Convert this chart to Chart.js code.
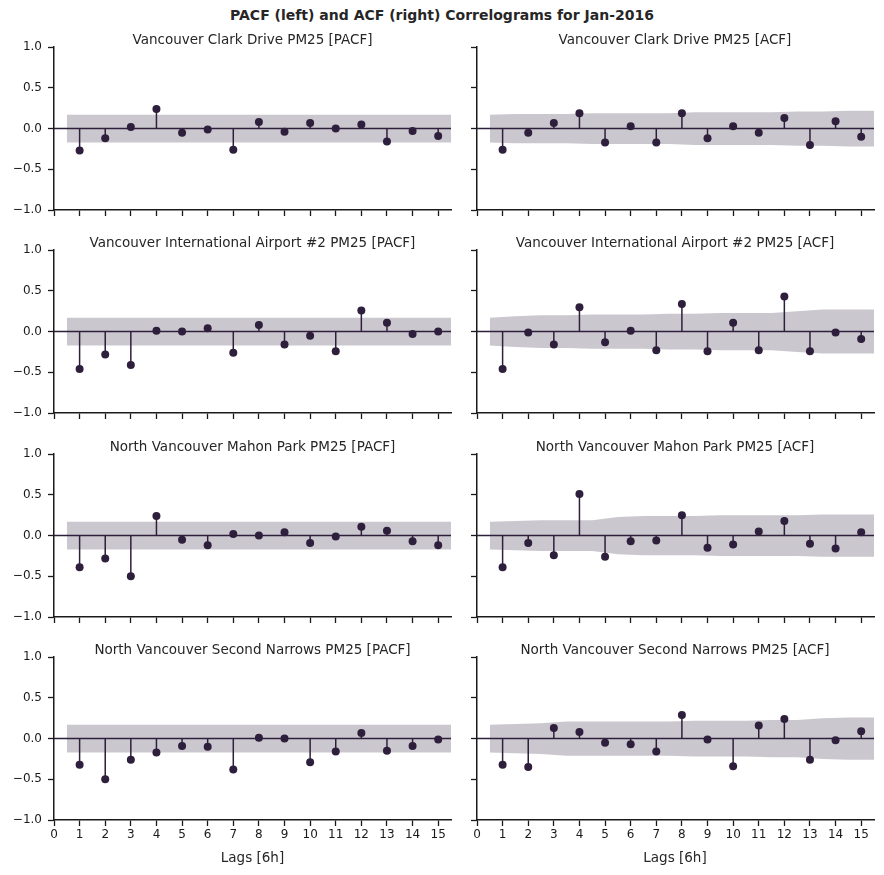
<!DOCTYPE html>
<html><head><meta charset="utf-8">
<script src="https://cdn.jsdelivr.net/npm/chart.js@4"></script>
<style>
body{margin:0;background:#fff;font-family:"DejaVu Sans",sans-serif;color:#262626}
#wrap{position:relative;width:884px;height:875px}
canvas{position:absolute}
.t{position:absolute;font-size:13.5px;text-align:center;white-space:nowrap}
</style></head><body><div id="wrap"></div>
<script>
const lags=[1,2,3,4,5,6,7,8,9,10,11,12,13,14,15];
const yTicks=[-1,-0.5,0,0.5,1];
const titles=[
"Vancouver Clark Drive PM25","Vancouver International Airport #2 PM25",
"North Vancouver Mahon Park PM25","North Vancouver Second Narrows PM25"];
const pacf=[
[-0.27,-0.12,0.02,0.24,-0.05,-0.01,-0.26,0.08,-0.04,0.07,0,0.05,-0.16,-0.03,-0.09],
[-0.46,-0.28,-0.41,0.01,0,0.04,-0.26,0.08,-0.16,-0.05,-0.24,0.26,0.11,-0.03,0],
[-0.39,-0.28,-0.5,0.24,-0.05,-0.12,0.02,0,0.04,-0.09,-0.01,0.11,0.06,-0.07,-0.12],
[-0.32,-0.5,-0.26,-0.17,-0.09,-0.1,-0.38,0.01,0,-0.29,-0.16,0.07,-0.15,-0.09,-0.01]];
const acf=[
[-0.26,-0.05,0.07,0.19,-0.17,0.03,-0.17,0.19,-0.12,0.03,-0.05,0.13,-0.2,0.09,-0.1],
[-0.46,-0.01,-0.16,0.3,-0.13,0.01,-0.23,0.34,-0.24,0.11,-0.23,0.43,-0.24,-0.01,-0.09],
[-0.39,-0.09,-0.24,0.51,-0.26,-0.07,-0.06,0.25,-0.15,-0.11,0.05,0.18,-0.1,-0.16,0.04],
[-0.32,-0.35,0.13,0.08,-0.05,-0.07,-0.16,0.29,-0.01,-0.34,0.16,0.24,-0.26,-0.02,0.09]];
// confidence band half-widths at x = 0.5,1.5,...,15.5
const pacfBand=[0.17,0.17,0.17,0.17,0.17,0.17,0.17,0.17,0.17,0.17,0.17,0.17,0.17,0.17,0.17,0.17];
const acfBand=[
[0.17,0.18,0.18,0.18,0.19,0.19,0.19,0.19,0.2,0.2,0.2,0.2,0.21,0.21,0.22,0.22],
[0.17,0.19,0.2,0.2,0.21,0.21,0.21,0.22,0.22,0.23,0.23,0.23,0.25,0.27,0.27,0.27],
[0.17,0.18,0.19,0.19,0.19,0.23,0.24,0.24,0.24,0.25,0.25,0.25,0.25,0.26,0.26,0.26],
[0.17,0.18,0.19,0.21,0.21,0.21,0.21,0.21,0.22,0.22,0.22,0.23,0.23,0.25,0.26,0.26]];

const C='#2e1f3c', BAND='rgba(46,31,60,0.25)', AX='#1a1a1a';
const wrap=document.getElementById('wrap');
function txt(s,x,y,w,extra){const d=document.createElement('div');d.className='t';d.textContent=s;
 d.style.left=x+'px';d.style.top=y+'px';d.style.width=w+'px';if(extra)Object.assign(d.style,extra);wrap.appendChild(d);}
txt('PACF (left) and ACF (right) Correlograms for Jan-2016',0,7,884,{fontWeight:'bold',fontSize:'14px'});
const rowTop=[46,249,453,656];
function panel(r,c){
 const vals=c?acf[r]:pacf[r], band=c?acfBand[r]:pacfBand;
 const cv=document.createElement('canvas');
 const left=c?460:0, w=c?418:455, top=rowTop[r]-12, h=206;
 cv.style.left=left+'px';cv.style.top=top+'px';cv.style.width=w+'px';cv.style.height=h+'px';
 cv.width=w;cv.height=h;wrap.appendChild(cv);
 txt(titles[r]+(c?' [ACF]':' [PACF]'),left+(c?17:54),rowTop[r]-15,c?396:397);
 const ds=[];
 const bx=band.map((b,i)=>i+0.5);
 ds.push({data:bx.map((x,i)=>({x,y:band[i]})),borderWidth:0,pointRadius:0,fill:false,backgroundColor:BAND});
 ds.push({data:bx.map((x,i)=>({x,y:-band[i]})),borderWidth:0,pointRadius:0,fill:'-1',backgroundColor:BAND});
 ds.push({data:[{x:0,y:0},{x:15.5,y:0}],borderColor:C,borderWidth:1.5,pointRadius:0});
 lags.forEach((l,i)=>ds.push({data:[{x:l,y:0},{x:l,y:vals[i]}],borderColor:C,borderWidth:1.5,pointRadius:0}));
 ds.push({data:lags.map((l,i)=>({x:l,y:vals[i]})),showLine:false,pointRadius:4,pointBackgroundColor:C,pointBorderWidth:0});
 new Chart(cv,{type:'line',data:{datasets:ds},options:{
  animation:false,responsive:false,devicePixelRatio:1,
  layout:{padding:{top:10,right:4,left:0,bottom:0}},
  plugins:{legend:{display:false},tooltip:{enabled:false}},
  scales:{
   x:{type:'linear',min:0,max:15.5,afterFit:s=>{s.height=30},
    afterBuildTicks:s=>{s.ticks=lags.concat([0]).sort((a,b)=>a-b).map(v=>({value:v}))},
    grid:{drawOnChartArea:false,tickLength:6,color:AX,tickWidth:1.3},border:{color:AX,width:1.5},
    ticks:{display:r==3,color:AX,font:{size:12,family:'DejaVu Sans'},padding:2,maxRotation:0,autoSkip:false}},
   y:{min:-1,max:1,afterFit:s=>{s.width=c?17:54},
    afterBuildTicks:s=>{s.ticks=yTicks.map(v=>({value:v}))},
    grid:{drawOnChartArea:false,tickLength:6,color:AX,tickWidth:1.3},border:{color:AX,width:1.5},
    ticks:{color:c?'rgba(0,0,0,0)':AX,font:{size:12,family:'DejaVu Sans'},padding:6,
     callback:v=>v.toFixed(1).replace('-','\u2212')}}
  }}});
}
for(let r=0;r<4;r++){panel(r,0);panel(r,1);}
txt('Lags [6h]',54,849,397);txt('Lags [6h]',477,849,396);
</script></body></html>
